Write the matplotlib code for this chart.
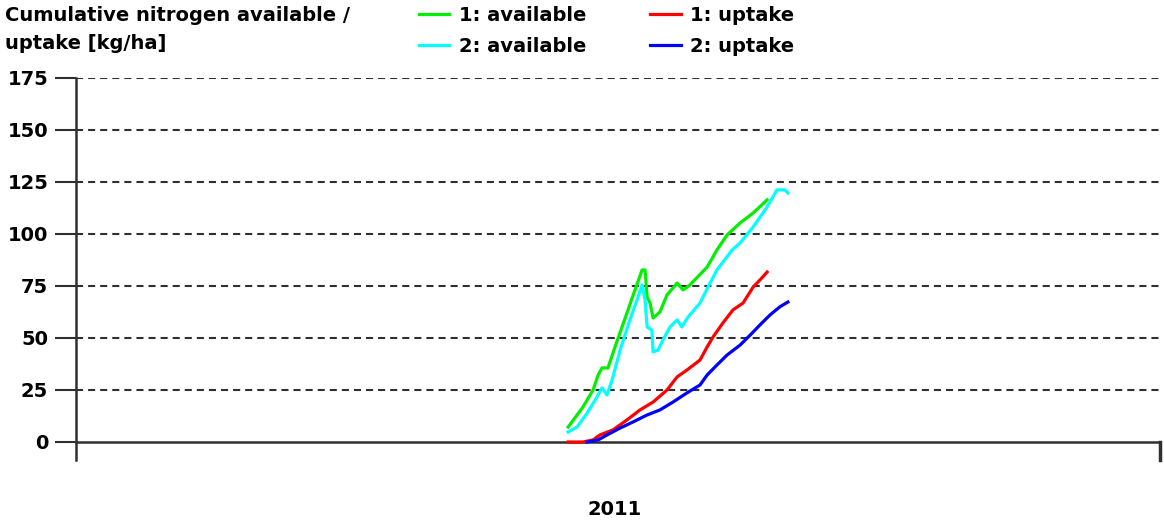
import matplotlib
matplotlib.use("Agg")
import matplotlib.pyplot as plt
import numpy as np

# day of year 2011 / cumulative N [kg/ha]
avail1_day = [165.7, 170.7, 174.1, 175.8, 177.1, 179.1, 181.5, 185.5, 188.2, 190.6, 191.6,
              192.3, 193.3, 194.3, 196.6, 199.0, 202.4, 204.4, 206.7, 212.5, 215.8, 219.2,
              223.6, 228.0, 232.7]
avail1_val = [7.2, 16.8, 25.0, 32.2, 35.6, 35.6, 45.7, 62.0, 73.0, 82.7, 82.7,
              69.7, 66.8, 59.6, 62.5, 70.7, 76.4, 73.1, 75.5, 84.1, 92.3, 99.5,
              105.3, 110.1, 116.4]

avail2_day = [165.7, 168.7, 172.1, 175.4, 177.1, 178.8, 180.5, 183.2, 186.5, 188.9, 190.6,
              191.6, 192.3, 193.9, 194.3, 196.0, 197.6, 200.0, 202.4, 204.0, 206.1, 210.1,
              212.8, 215.8, 220.9, 223.6, 228.0, 232.7, 236.0, 238.7, 239.7]
avail2_val = [4.8, 7.2, 13.9, 21.6, 26.0, 22.6, 29.8, 44.2, 58.7, 68.3, 75.5,
              68.3, 55.3, 53.8, 43.3, 44.2, 49.0, 55.3, 58.7, 55.3, 60.1, 66.8,
              74.5, 82.7, 92.3, 95.7, 103.4, 113.0, 121.2, 121.2, 119.7]

uptake1_day = [165.7, 170.7, 174.1, 176.4, 180.8, 185.5, 189.9, 194.3, 199.0, 202.4,
               205.7, 210.1, 212.5, 214.5, 217.8, 221.2, 224.6, 228.0, 230.3, 232.7]
uptake1_val = [0.0, 0.0, 1.0, 3.4, 5.8, 10.6, 15.4, 19.2, 25.0, 31.3,
               34.6, 39.4, 45.7, 50.5, 57.2, 63.5, 66.8, 74.5, 77.9, 81.7]

uptake2_day = [172.1, 175.8, 178.8, 183.2, 187.5, 192.3, 196.6, 201.0, 205.7, 210.1,
               212.5, 215.8, 219.2, 223.6, 227.0, 230.3, 233.7, 237.0, 239.7]
uptake2_val = [0.0, 1.0, 3.4, 6.7, 9.6, 13.0, 15.4, 19.2, 23.6, 27.4,
               32.2, 37.0, 41.8, 46.6, 51.4, 56.3, 61.1, 65.0, 67.3]

yticks = [0, 25, 50, 75, 100, 125, 150, 175]

fs = 14

fig = plt.figure(figsize=(11.64, 5.21), dpi=100)
ax = fig.add_axes([0.0653, 0.1171, 0.9313, 0.7332])
ax.set_xlim(0, 365)
ax.set_ylim(-8.65, 175)

# dashed grid and solid zero line
for t in yticks[1:]:
    ax.axhline(t, color="#303030", lw=1.5, ls=(0, (3.4, 2.4)), zorder=1)
ax.plot([0, 365], [0, 0], color="#303030", lw=1.8, zorder=2, clip_on=False)
ax.plot([365, 365], [-8.65, 0], color="#303030", lw=2.5, zorder=2, clip_on=False)

lw = 2.3
ax.plot(avail1_day, avail1_val, color="#00f000", lw=lw, label="1: available", zorder=3)
ax.plot(avail2_day, avail2_val, color="#00ffff", lw=lw, label="2: available", zorder=3)
ax.plot(uptake1_day, uptake1_val, color="#ff0000", lw=lw, label="1: uptake", zorder=3)
ax.plot(uptake2_day, uptake2_val, color="#0000ff", lw=lw, label="2: uptake", zorder=3)

for s in ["top", "right", "bottom"]:
    ax.spines[s].set_visible(False)
ax.spines["left"].set_color("#303030")
ax.spines["left"].set_linewidth(1.8)

ax.set_yticks(yticks)
ax.set_yticklabels([str(t) for t in yticks], fontsize=fs, fontweight="bold")
ax.tick_params(axis="y", length=15, width=1.5, color="#303030", pad=5)
ax.set_xticks([])

fig.text(0.004, 0.988, "Cumulative nitrogen available /\nuptake [kg/ha]", ha="left", va="top",
         fontsize=fs, fontweight="bold", linespacing=1.55)
fig.text(0.528, 0.023, "2011", ha="center", va="center", fontsize=fs, fontweight="bold")

fig.legend(loc="upper left", bbox_to_anchor=(0.345, 1.022), ncol=2, frameon=False,
           prop={"size": fs, "weight": "bold"}, handlelength=1.55, handletextpad=0.5,
           columnspacing=3.3, labelspacing=0.62)

fig.savefig("out.png", dpi=100)
